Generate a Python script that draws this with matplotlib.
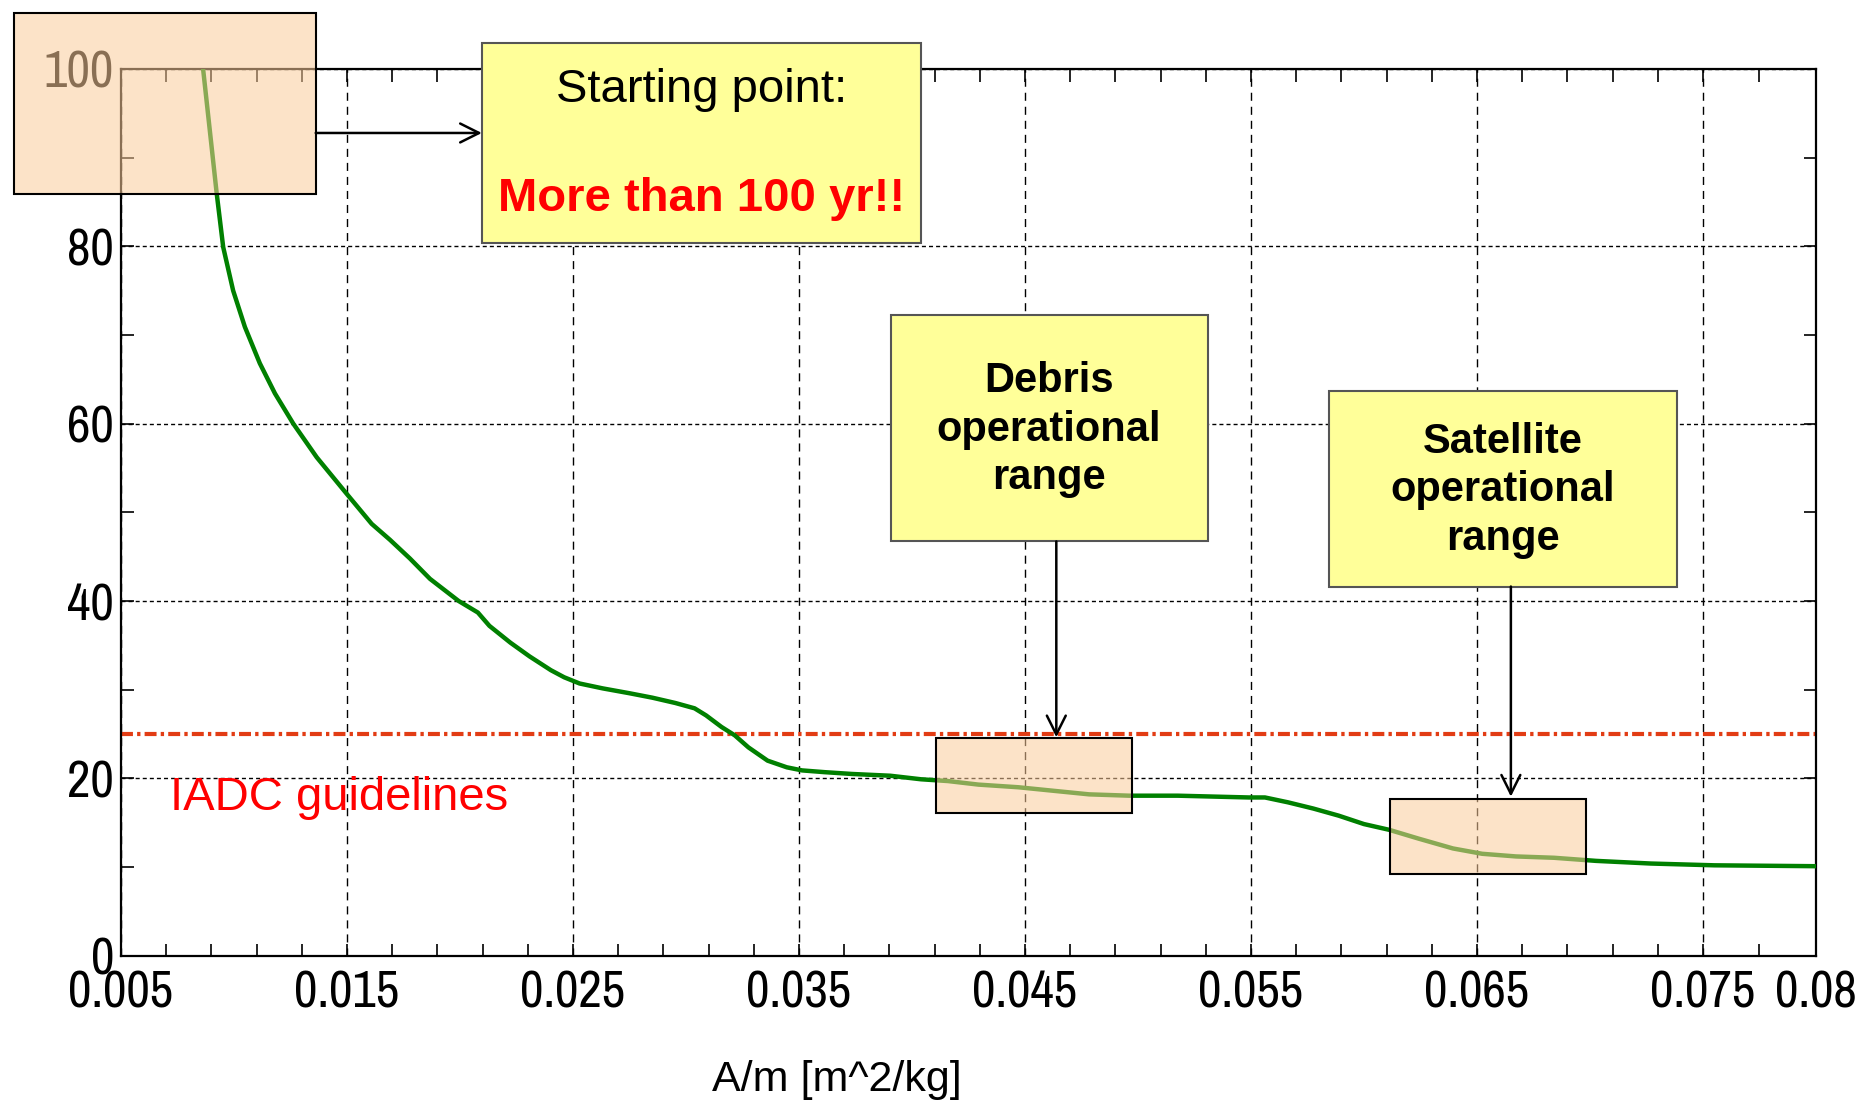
import numpy as np
import matplotlib
matplotlib.use('Agg')
import matplotlib.pyplot as plt
from matplotlib import font_manager
from matplotlib.patches import Rectangle, FancyArrowPatch

plt.rcParams['font.family'] = ['Liberation Sans', 'DejaVu Sans']
plt.rcParams['lines.scale_dashes'] = False

# area-to-mass ratio [m^2/kg] vs orbital lifetime [yr]
am = [0.00863, 0.00923, 0.00952, 0.00996, 0.01048, 0.01114, 0.01181, 0.01262,
      0.01366, 0.01498, 0.01609, 0.0169, 0.01778, 0.01867, 0.01994, 0.02079,
      0.0213, 0.02223, 0.02308, 0.02402, 0.02461, 0.02529, 0.02631, 0.0275,
      0.02851, 0.02953, 0.03038, 0.03089, 0.03157, 0.03216, 0.03276, 0.03361,
      0.03446, 0.03514, 0.03615, 0.03734, 0.03904, 0.0404, 0.04159, 0.04294,
      0.04471, 0.04627, 0.04784, 0.04961, 0.05176, 0.0549, 0.05562, 0.05664,
      0.05776, 0.05888, 0.06, 0.06112, 0.06243, 0.06394, 0.06523, 0.06673,
      0.06841, 0.07027, 0.0727, 0.0755, 0.08]
life = [100, 86.0, 79.9, 75.0, 70.9, 66.8, 63.4, 60.0, 56.2, 52.1, 48.7, 46.9,
        44.8, 42.5, 40.0, 38.7, 37.2, 35.3, 33.75, 32.2, 31.4, 30.7, 30.15, 29.6,
        29.1, 28.5, 27.9, 27.1, 25.8, 24.85, 23.5, 22.0, 21.25, 20.9, 20.7, 20.5,
        20.3, 19.9, 19.7, 19.3, 19.0, 18.6, 18.2, 18.05, 18.05, 17.85, 17.85, 17.3,
        16.6, 15.8, 14.85, 14.2, 13.2, 12.1, 11.5, 11.2, 11.05, 10.7, 10.4, 10.2, 10.1]

iadc_limit = 25
xticks = [0.005, 0.015, 0.025, 0.035, 0.045, 0.055, 0.065, 0.075, 0.08]
xticklabels = ['0.005', '0.015', '0.025', '0.035', '0.045', '0.055', '0.065', '0.075', '0.08']
yticks = [0, 20, 40, 60, 80, 100]
yticklabels = ['0', '20', '40', '60', '80', '100']

# the tick labels are in a narrow face; use one if the system has it
names = [f.name for f in font_manager.fontManager.ttflist]
narrow = [n for n in names if 'Narrow' in n or 'Condensed' in n]
dv_cond = [f for f in font_manager.fontManager.ttflist
           if f.name == 'DejaVu Sans' and f.stretch in ('condensed', 'semi-condensed')]
if narrow:
    tick_font = dict(family=narrow[0], size=37)
elif dv_cond:
    tick_font = dict(family='DejaVu Sans', stretch='condensed', size=31)
else:
    tick_font = dict(family='Liberation Sans', size=33)

W, H = 1568.0, 929.0
def fxy(px, py):
    # reference pixel position -> figure fraction
    return px / W, 1 - py / H

fig = plt.figure(figsize=(18.61, 11.03), dpi=100)
ax = fig.add_axes([102 / W, 1 - 805 / H, (1530 - 102) / W, (805 - 58) / H])

ax.plot(am, life, color='#008000', lw=3.2, zorder=3)
ax.axhline(iadc_limit, color='#E23C14', lw=3, linestyle=(0, (8.6, 3, 2.4, 3)), zorder=2)

ax.set_xlim(0.005, 0.08)
ax.set_ylim(0, 100)
ax.set_xticks(xticks)
ax.set_xticklabels(xticklabels)
ax.set_yticks(yticks)
ax.set_yticklabels(yticklabels)
minor_x = [a + d for a in np.arange(0.005, 0.07, 0.01) for d in (0.002, 0.004, 0.006, 0.008)]
ax.set_xticks(minor_x + [0.0775], minor=True)
ax.set_yticks([10, 30, 50, 70, 90], minor=True)

ax.xaxis.grid(True, which='major', color='black', lw=1.0, linestyle=(0, (5.8, 4.3)))
ax.yaxis.grid(True, which='major', color='black', lw=1.0, linestyle=(0, (2.9, 2.2)))
ax.tick_params(which='both', direction='in', top=True, right=True, length=9, width=1.2)
ax.tick_params(axis='x', pad=10)
ax.tick_params(axis='y', pad=5)
for lab in ax.get_xticklabels() + ax.get_yticklabels():
    lab.set_family(tick_font['family'])
    lab.set_fontsize(tick_font['size'])
    if 'stretch' in tick_font:
        lab.set_stretch(tick_font['stretch'])
for s in ax.spines.values():
    s.set_linewidth(1.6)

fig.text(*fxy(705, 910), 'A/m [m^2/kg]', fontsize=31, ha='center', va='center')
fig.text(*fxy(143, 672), 'IADC guidelines', fontsize=34, color='red', ha='left', va='center')

peach = (251 / 255, 204 / 255, 155 / 255, 0.55)
yellow = '#FFFF99'

def box(x0, y0, x1, y1, face, edge):
    fx0, fy1 = fxy(x0, y1)
    fx1, fy0 = fxy(x1, y0)
    fig.add_artist(Rectangle((fx0, fy1), fx1 - fx0, fy0 - fy1, transform=fig.transFigure,
                             facecolor=face, edgecolor=edge, lw=1.5, zorder=1))

def arrow(x0, y0, x1, y1):
    fig.add_artist(FancyArrowPatch(fxy(x0, y0), fxy(x1, y1), transform=fig.transFigure,
                                   arrowstyle='->', mutation_scale=34, lw=1.8,
                                   color='black', zorder=2, shrinkA=0, shrinkB=0))

# starting point
box(12, 11, 266, 163, peach, 'black')
arrow(266, 112, 406, 112)
box(406, 36, 776, 205, yellow, '#555555')
fig.text(*fxy(591, 76), 'Starting point:', fontsize=34, ha='center', va='center', zorder=3)
fig.text(*fxy(591, 168), 'More than 100 yr!!', fontsize=34, fontweight='bold',
         color='red', ha='center', va='center', zorder=3)

# debris range
box(751, 265, 1018, 456, yellow, '#555555')
fig.text(*fxy(884, 362), 'Debris\noperational\nrange', fontsize=30, fontweight='bold',
         ha='center', va='center', linespacing=1.27, zorder=3)
arrow(890, 456, 890, 621)
box(789, 622, 954, 685, peach, 'black')

# satellite range
box(1120, 329, 1413, 494, yellow, '#555555')
fig.text(*fxy(1266, 413), 'Satellite\noperational\nrange', fontsize=30, fontweight='bold',
         ha='center', va='center', linespacing=1.27, zorder=3)
arrow(1273, 494, 1273, 671)
box(1171, 673, 1336, 736, peach, 'black')

fig.savefig('out.png', dpi=100)
